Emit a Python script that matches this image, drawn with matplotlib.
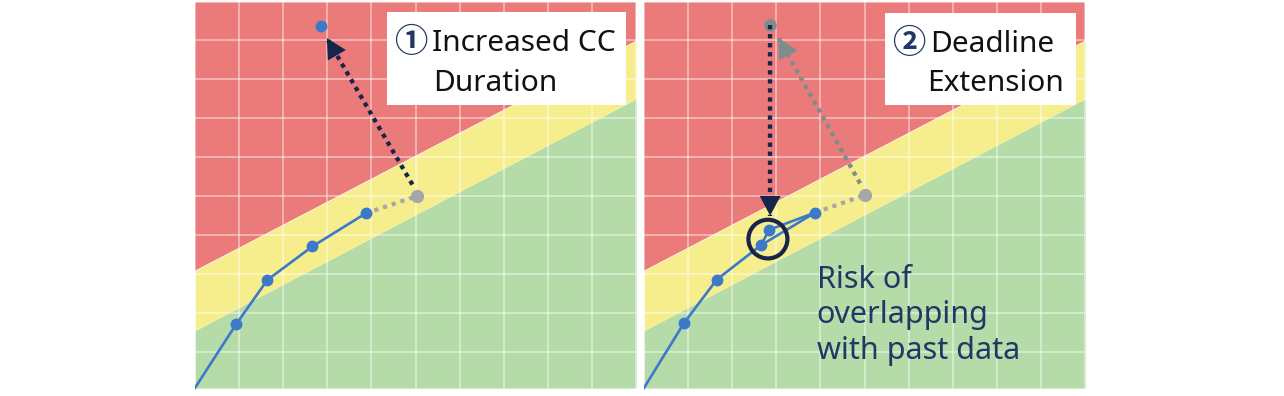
import matplotlib
matplotlib.use("Agg")
import matplotlib.pyplot as plt
from matplotlib.patches import Rectangle, Ellipse
import numpy as np

plt.rcParams['font.family'] = ['Noto Sans', 'Noto Sans CJK JP', 'DejaVu Sans']

# ---------------- data ----------------
band_x = [0, 10]
red_yellow_y = [3.09, 8.99]      # upper boundary of the yellow band
yellow_green_y = [1.55, 7.50]    # lower boundary of the yellow band

# panel 1: actual progress
p1_x = [0.0, 0.93, 1.64, 2.66, 3.87]
p1_y = [0.08, 1.71, 2.85, 3.71, 4.56]
p1_forecast = [5.04, 5.01]
p1_moved = [2.86, 9.38]
p1_arrow_from = [4.93, 5.30]
p1_arrow_to = [2.99, 9.06]

# panel 2: after deadline extension
p2_x = [0.0, 0.91, 1.65, 2.65, 3.88]
p2_y = [0.08, 1.75, 2.86, 3.74, 4.58]
p2_shift_x = [2.65, 2.84, 3.88]
p2_shift_y = [3.74, 4.14, 4.58]
p2_forecast = [5.01, 5.03]
p2_top = [2.86, 9.40]
p2_down_to = [2.86, 4.50]
p2_gray_from = [4.90, 5.33]
p2_gray_to = [3.05, 9.06]
p2_circle = [2.81, 3.90]

label1 = ["\u2460", "Increased CC", "Duration"]
label2 = ["\u2461", "Deadline", "Extension"]
risk_lines = ["Risk of", "overlapping", "with past data"]

# ---------------- style ----------------
RED = "#EB7A7A"
YEL = "#F6EE8C"
GRN = "#B5DBA9"
BLUE = "#3D79C9"
NAVY = "#17254A"
GRAY = "#A6A6A6"
GRAY2 = "#7F8C8C"
TXTNAVY = "#1F3864"

W, H = 1284, 396
fig = plt.figure(figsize=(W / 100, H / 100), dpi=100)
YMIN, YMAX = 0.076, 10.0


def base_axes(left_px):
    ax = fig.add_axes([left_px / W, 5 / H, 441 / W, 389.5 / H])
    ax.set_xlim(0, 10)
    ax.set_ylim(YMIN, YMAX)
    bx = np.array(band_x, dtype=float)
    ax.fill_between(bx, YMIN, yellow_green_y, color=GRN, lw=0, zorder=1)
    ax.fill_between(bx, yellow_green_y, red_yellow_y, color=YEL, lw=0, zorder=1)
    ax.fill_between(bx, red_yellow_y, 20, color=RED, lw=0, zorder=1)
    ax.set_xticks(range(0, 11))
    ax.set_yticks(range(0, 11))
    ax.set_axisbelow('line')
    ax.grid(True, color="white", alpha=0.5, lw=1.2)
    ax.tick_params(length=0, labelbottom=False, labelleft=False)
    for s in ax.spines.values():
        s.set_visible(False)
    return ax


def dotted_arrow(ax, start, end, color):
    ax.plot([start[0], end[0]], [start[1], end[1]], color=color, lw=3.1,
            linestyle=(0, (1, 1.1)), dash_capstyle='butt', zorder=5)
    d = np.array(end) - np.array(start)
    back = np.array(end) - d / np.hypot(*d) * 0.05
    ax.annotate('', xy=end, xytext=tuple(back),
                arrowprops=dict(arrowstyle='-|>,head_length=0.95,head_width=0.5',
                                color=color, lw=0, mutation_scale=15,
                                shrinkA=0, shrinkB=0), zorder=6)


def label_box(ax, rect, labels, xs, ys):
    ax.add_patch(Rectangle((rect[0], rect[1]), rect[2], rect[3], facecolor="white",
                           edgecolor="none", zorder=3))
    ax.text(xs[0], ys[0], labels[0], fontsize=24, color=TXTNAVY, fontweight='bold',
            family=['Noto Sans CJK JP'], ha='left', va='baseline', zorder=7)
    ax.text(xs[1], ys[1], labels[1], fontsize=21.5, color="#111111",
            ha='left', va='baseline', zorder=7)
    ax.text(xs[2], ys[2], labels[2], fontsize=21.5, color="#111111",
            ha='left', va='baseline', zorder=7)


# ---------------- panel 1 ----------------
ax1 = base_axes(195)
label_box(ax1, (4.35, 7.35, 5.42, 2.37), label1, [4.52, 5.37, 5.40], [8.70, 8.72, 7.69])
ax1.plot([p1_x[-1], p1_forecast[0]], [p1_y[-1], p1_forecast[1]], color=GRAY, lw=3,
         linestyle=(0, (1, 1.2)), dash_capstyle='butt', zorder=4)
ax1.plot(p1_x, p1_y, color=BLUE, lw=1.9, zorder=4)
ax1.plot(p1_x[1:], p1_y[1:], 'o', color=BLUE, ms=7.5, zorder=5)
ax1.plot([p1_forecast[0]], [p1_forecast[1]], 'o', color=GRAY, ms=8.5, zorder=5)
ax1.plot([p1_moved[0]], [p1_moved[1]], 'o', color=BLUE, ms=7.5, zorder=5)
dotted_arrow(ax1, p1_arrow_from, p1_arrow_to, NAVY)

# ---------------- panel 2 ----------------
ax2 = base_axes(644)
label_box(ax2, (5.46, 7.34, 4.34, 2.36), label2, [5.62, 6.49, 6.41], [8.68, 8.70, 7.70])
ax2.plot([p2_x[-1], p2_forecast[0]], [p2_y[-1], p2_forecast[1]], color=GRAY, lw=3,
         linestyle=(0, (1, 1.2)), dash_capstyle='butt', zorder=4)
ax2.plot(p2_x, p2_y, color=BLUE, lw=1.9, zorder=4)
ax2.plot(p2_shift_x, p2_shift_y, color=BLUE, lw=1.9, zorder=4)
ax2.plot(p2_x[1:], p2_y[1:], 'o', color=BLUE, ms=7.5, zorder=5)
ax2.plot(p2_shift_x[1:2], p2_shift_y[1:2], 'o', color=BLUE, ms=7.5, zorder=5)
ax2.plot([p2_forecast[0]], [p2_forecast[1]], 'o', color=GRAY, ms=8.5, zorder=5)
ax2.plot([p2_top[0]], [p2_top[1]], 'o', color=GRAY2, ms=8, zorder=5)
dotted_arrow(ax2, p2_gray_from, p2_gray_to, GRAY2)
dotted_arrow(ax2, p2_top, p2_down_to, NAVY)
ax2.add_patch(Ellipse(p2_circle, 39 / 44.1, 39 / 39.25, facecolor='none',
                      edgecolor=NAVY, lw=3, zorder=6))
for i, line in enumerate(risk_lines):
    ax2.text(3.92, 2.65 - 0.917 * i, line, fontsize=22, color=TXTNAVY,
             ha='left', va='baseline', zorder=7)

fig.savefig("out.png", dpi=100, facecolor="white")
